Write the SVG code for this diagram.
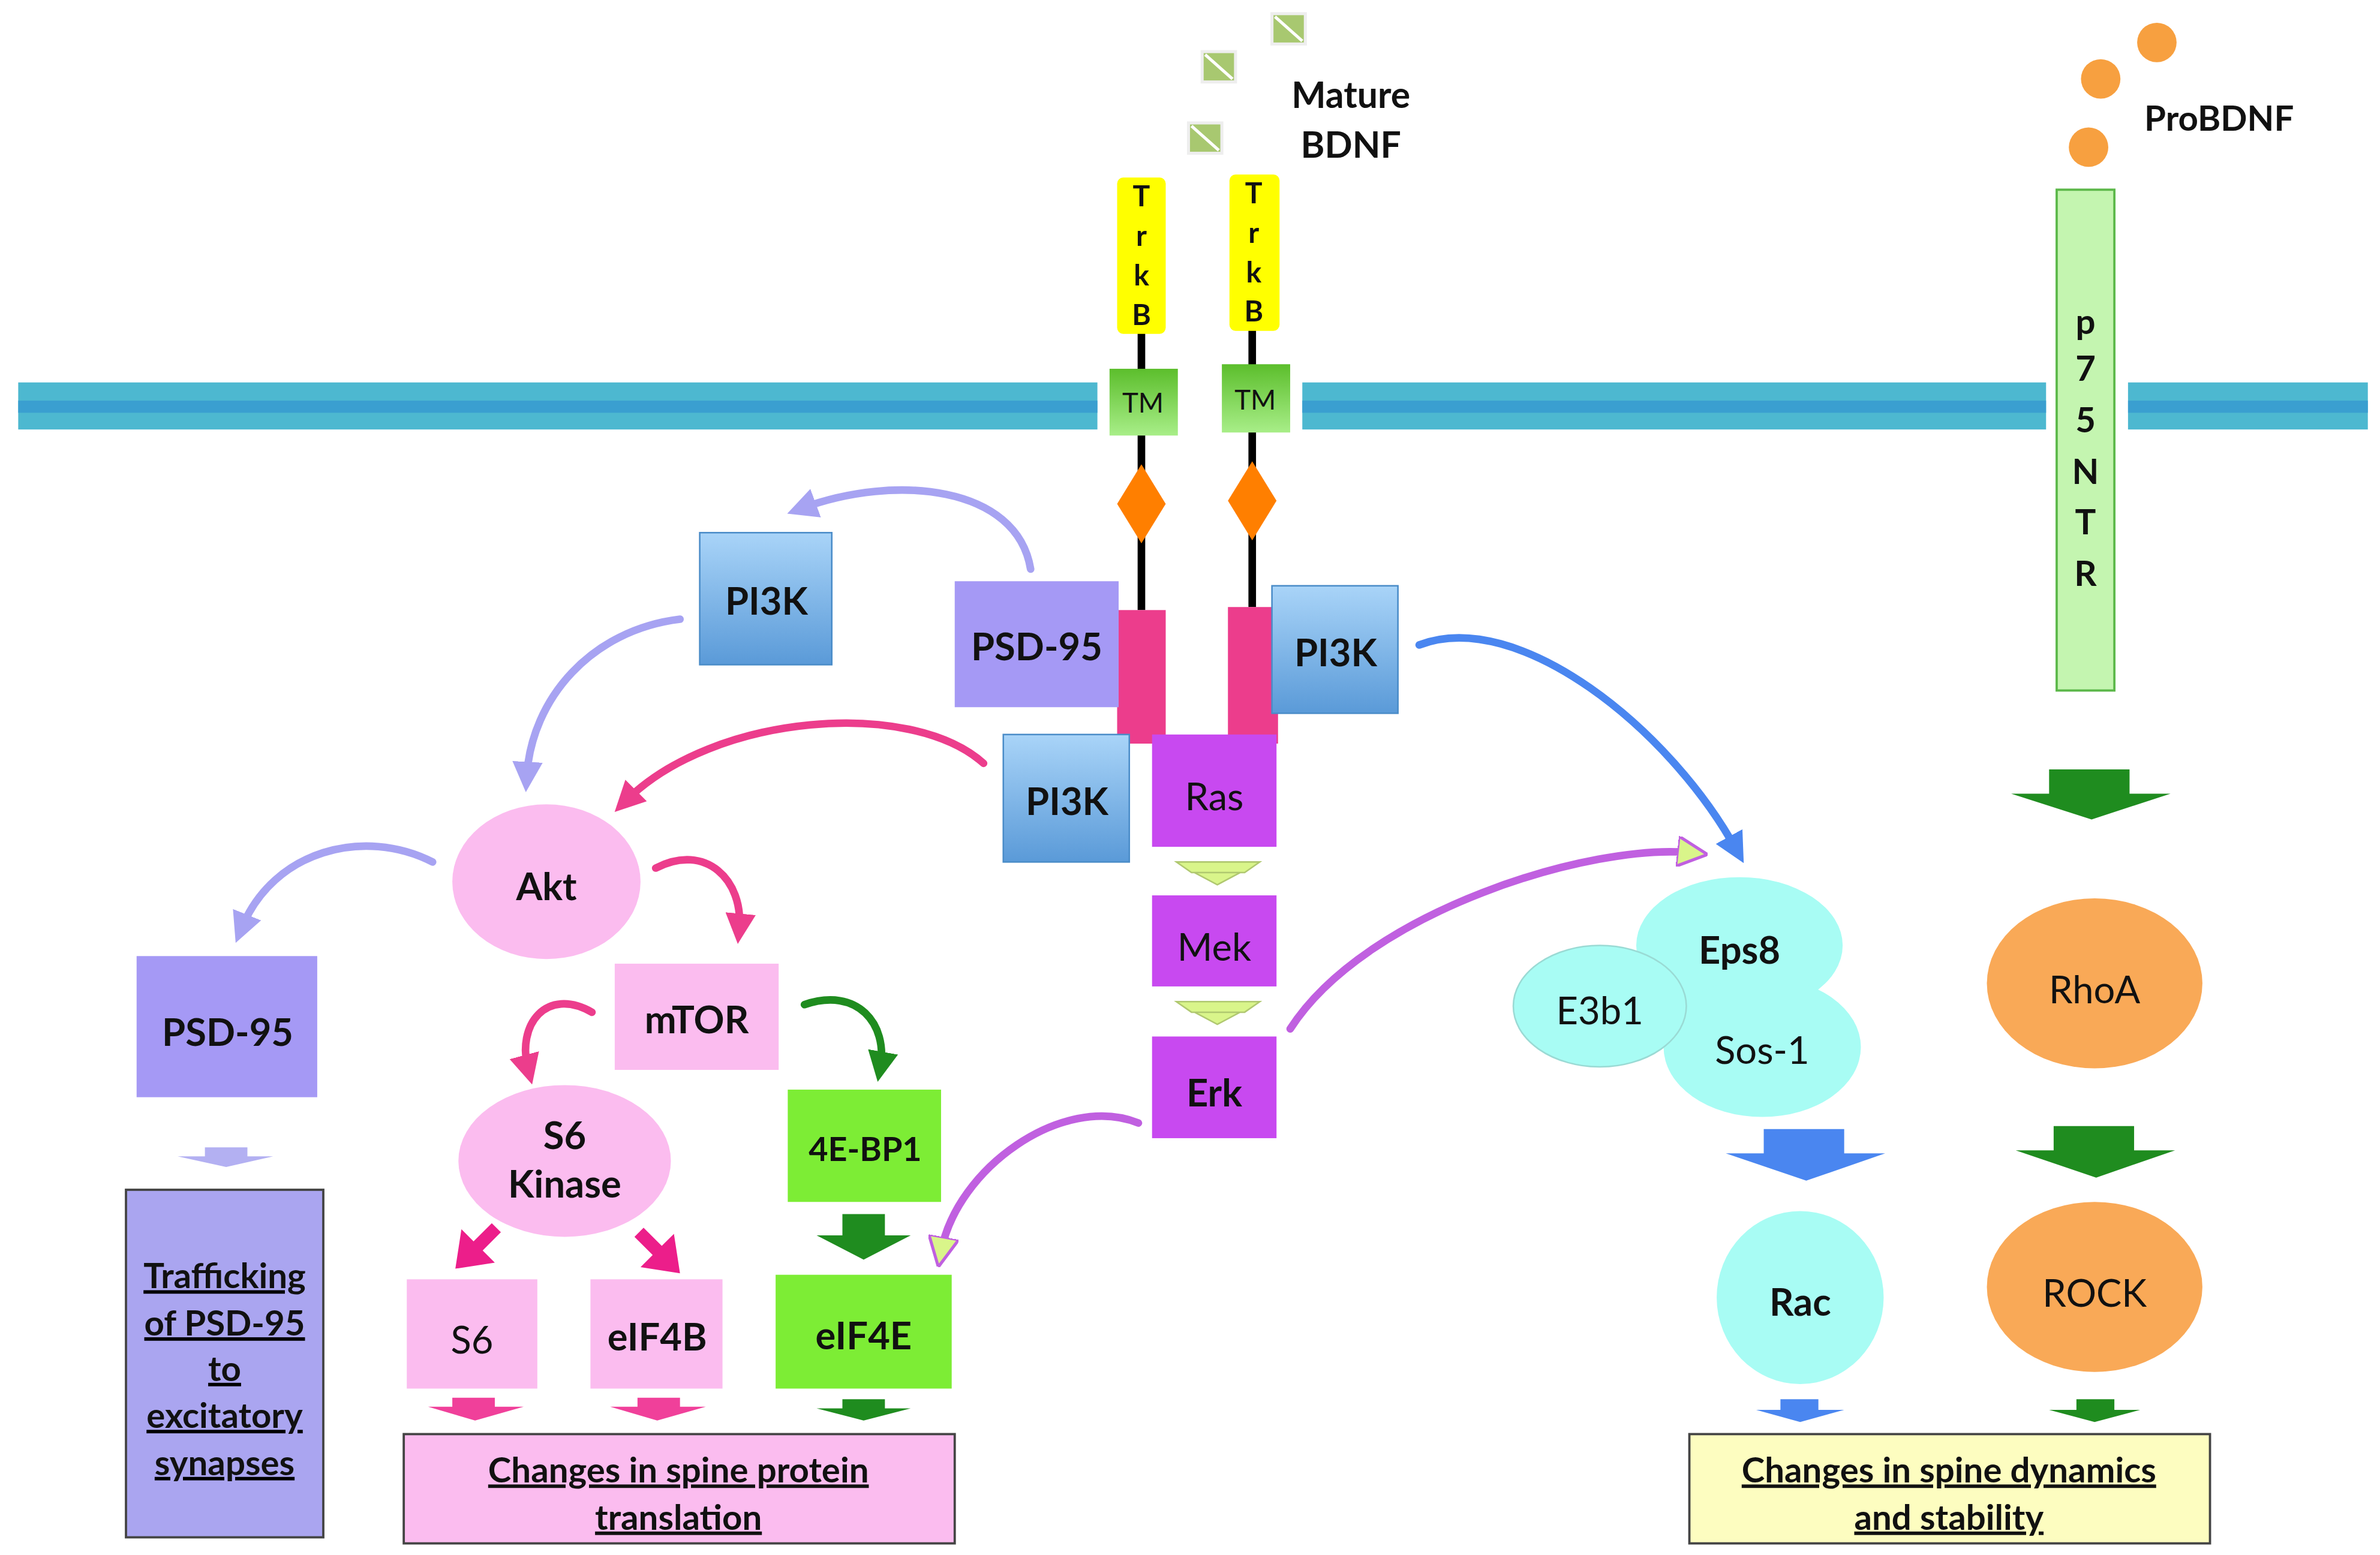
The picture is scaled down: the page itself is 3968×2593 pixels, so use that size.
<svg xmlns="http://www.w3.org/2000/svg" width="3968" height="2593" viewBox="0 0 3968 2593">
<style>
text{font-family:"Lato","Liberation Sans",sans-serif;text-anchor:middle;fill:#111}
.b{font-weight:bold}
.t{font-size:25px}
.pi{fill:url(#gb);stroke:#4a8cc8;stroke-width:1}
.pk{fill:#fbbcef}
.gr{fill:#7ded35}
.cy{fill:#a8fcf4}
.or{fill:#f9a957}
.mg{fill:#c849f0}
.u{text-decoration:underline}
.c{fill:none;stroke-width:5;stroke-linecap:round}
</style>
<defs>
<linearGradient id="gb" x1="0" y1="0" x2="0" y2="1"><stop offset="0" stop-color="#a9d4f8"/><stop offset="1" stop-color="#5a9ad8"/></linearGradient>
<linearGradient id="gt" x1="0" y1="0" x2="0" y2="1"><stop offset="0" stop-color="#5cbe2c"/><stop offset="1" stop-color="#a8ee88"/></linearGradient>
<marker id="mLav" viewBox="0 0 10 10" refX="5" refY="5" markerWidth="4" markerHeight="4" orient="auto"><path d="M0,0L10,5L0,10z" fill="#a7a3f2"/></marker>
<marker id="mPk" viewBox="0 0 10 10" refX="5" refY="5" markerWidth="4" markerHeight="4" orient="auto"><path d="M0,0L10,5L0,10z" fill="#ec3d8c"/></marker>
<marker id="mGr" viewBox="0 0 10 10" refX="5" refY="5" markerWidth="4" markerHeight="4" orient="auto"><path d="M0,0L10,5L0,10z" fill="#1f8c1f"/></marker>
<marker id="mBl" viewBox="0 0 10 10" refX="5" refY="5" markerWidth="4" markerHeight="4" orient="auto"><path d="M0,0L10,5L0,10z" fill="#4a86f0"/></marker>
<marker id="mYl" viewBox="0 0 10 10" refX="5" refY="5" markerWidth="4" markerHeight="4" orient="auto"><path d="M0,0L10,5L0,10z" fill="#d9f58a" stroke="#c060e0" stroke-width="1"/></marker>
</defs>
<rect width="3968" height="2593" fill="#fff"/>
<g transform="scale(2.5306)">
<g id="membrane">
<rect x="12" y="252" width="711" height="31" fill="#4db8d0"/><rect x="12" y="264" width="711" height="8" fill="#3a9fd0"/>
<rect x="858" y="252" width="490" height="31" fill="#4db8d0"/><rect x="858" y="264" width="490" height="8" fill="#3a9fd0"/>
<rect x="1402" y="252" width="158" height="31" fill="#4db8d0"/><rect x="1402" y="264" width="158" height="8" fill="#3a9fd0"/>
</g>
<g id="bdnf">
<g fill="#a8c870" stroke="#eee" stroke-width="2"><rect x="838" y="9" width="22" height="20"/><rect x="792" y="34" width="22" height="20"/><rect x="783" y="81" width="22" height="20"/></g>
<g stroke="#fff" stroke-width="2"><path d="M840,11L858,27M794,36L812,52M785,83L803,99"/></g>
<text x="890" y="71" class="b" font-size="24">Mature</text><text x="890" y="104" class="b" font-size="24">BDNF</text>
</g>
<g id="trkb-left">
<line x1="752" y1="218" x2="752" y2="402" stroke="#000" stroke-width="5"/>
<rect x="736" y="117" width="32" height="103" rx="4" fill="#ffff00"/>
<text x="752" y="136" class="b" font-size="19">T</text><text x="752" y="162" class="b" font-size="19">r</text><text x="752" y="188" class="b" font-size="19">k</text><text x="752" y="214" class="b" font-size="19">B</text>
<rect x="731" y="243" width="45" height="44" fill="url(#gt)"/><text x="753" y="272" font-size="18">TM</text>
<path d="M752,306L768,332L752,358L736,332z" fill="#ff7f00"/>
<rect x="736" y="402" width="32" height="88" fill="#ec3d8c"/>
</g>
<g id="trkb-right">
<line x1="825" y1="216" x2="825" y2="400" stroke="#000" stroke-width="5"/>
<rect x="810" y="115" width="33" height="103" rx="4" fill="#ffff00"/>
<text x="826" y="134" class="b" font-size="19">T</text><text x="826" y="160" class="b" font-size="19">r</text><text x="826" y="186" class="b" font-size="19">k</text><text x="826" y="212" class="b" font-size="19">B</text>
<rect x="805" y="240" width="45" height="45" fill="url(#gt)"/><text x="827" y="270" font-size="18">TM</text>
<path d="M825,304L841,330L825,356L809,330z" fill="#ff7f00"/>
<rect x="809" y="400" width="33" height="90" fill="#ec3d8c"/>
</g>
<g id="psd95-top"><rect x="629" y="383" width="108" height="83" fill="#a599f5"/><text x="683" y="435" class="b t">PSD-95</text></g>
<g id="pi3k-top"><rect x="461" y="351" width="87" height="87" class="pi"/><text x="505" y="405" class="b t">PI3K</text></g>
<g id="pi3k-right"><rect x="838" y="386" width="83" height="84" class="pi"/><text x="880" y="439" class="b t">PI3K</text></g>
<g id="pi3k-low"><rect x="661" y="484" width="83" height="84" class="pi"/><text x="703" y="537" class="b t">PI3K</text></g>
<g id="ras"><rect x="759" y="484" width="82" height="74" class="mg"/><text x="800" y="534" class="t">Ras</text></g>
<g id="mek"><rect x="759" y="590" width="82" height="60" class="mg"/><text x="800" y="633" class="t">Mek</text></g>
<g id="erk"><rect x="759" y="683" width="82" height="67" class="mg"/><text x="800" y="729" class="b t">Erk</text></g>
<g id="akt"><ellipse cx="360" cy="581" rx="62" ry="51" class="pk"/><text x="360" y="593" class="b t">Akt</text></g>
<g id="mtor"><rect x="405" y="635" width="108" height="70" class="pk"/><text x="459" y="681" class="b t">mTOR</text></g>
<g id="s6k"><ellipse cx="372" cy="765" rx="70" ry="50" class="pk"/><text x="372" y="757" class="b t">S6</text><text x="372" y="789" class="b t">Kinase</text></g>
<g id="4ebp1"><rect x="519" y="718" width="101" height="74" class="gr"/><text x="570" y="765" class="b" font-size="22">4E-BP1</text></g>
<g id="s6"><rect x="268" y="843" width="86" height="72" class="pk"/><text x="311" y="892" class="t">S6</text></g>
<g id="eif4b"><rect x="389" y="843" width="87" height="72" class="pk"/><text x="433" y="890" class="b t">eIF4B</text></g>
<g id="eif4e"><rect x="511" y="840" width="116" height="75" class="gr"/><text x="569" y="889" class="b t">eIF4E</text></g>
<g id="psd95-left"><rect x="90" y="630" width="119" height="93" fill="#a599f5"/><text x="150" y="689" class="b t">PSD-95</text></g>
<g id="trafficking"><rect x="83" y="784" width="130" height="229" fill="#aaa5f0" stroke="#444" stroke-width="1.5"/>
<g class="b u" font-size="23"><text x="148" y="849">Trafficking</text><text x="148" y="880">of PSD-95</text><text x="148" y="910">to</text><text x="148" y="941">excitatory</text><text x="148" y="972">synapses</text></g></g>
<g id="translation"><rect x="266" y="945" width="363" height="72" class="pk" stroke="#444" stroke-width="1.5"/>
<text x="447" y="977" class="b u" font-size="23">Changes in spine protein</text><text x="447" y="1008" class="b u" font-size="23">translation</text></g>
<g id="dynamics"><rect x="1113" y="945" width="343" height="72" fill="#fdfdc0" stroke="#444" stroke-width="1.5"/>
<text x="1284" y="977" class="b u" font-size="23">Changes in spine dynamics</text><text x="1284" y="1008" class="b u" font-size="23">and stability</text></g>
<g id="eps8-complex">
<ellipse cx="1146" cy="623" rx="68" ry="45" class="cy"/>
<ellipse cx="1161" cy="690" rx="65" ry="46" class="cy"/>
<ellipse cx="1054" cy="663" rx="57" ry="40" class="cy" stroke="#9adad4" stroke-width="1"/>
<text x="1146" y="635" class="b t">Eps8</text><text x="1161" y="701" class="t">Sos-1</text><text x="1054" y="675" class="t">E3b1</text>
</g>
<g id="rac"><ellipse cx="1186" cy="855" rx="55" ry="57" class="cy"/><text x="1186" y="867" class="b t">Rac</text></g>
<g id="rhoa"><ellipse cx="1380" cy="648" rx="71" ry="56" class="or"/><text x="1380" y="661" class="t">RhoA</text></g>
<g id="rock"><ellipse cx="1380" cy="848" rx="71" ry="56" class="or"/><text x="1380" y="861" class="t">ROCK</text></g>
<g id="p75ntr"><rect x="1355" y="125" width="38" height="330" fill="#c4f5b0" stroke="#5cb84a" stroke-width="1.5"/>
<g class="b" font-size="23"><text x="1374" y="220">p</text><text x="1374" y="251">7</text><text x="1374" y="285">5</text><text x="1374" y="319">N</text><text x="1374" y="352">T</text><text x="1374" y="386">R</text></g></g>
<g id="probdnf"><g fill="#f7a040"><circle cx="1384" cy="52" r="13"/><circle cx="1421" cy="28" r="13"/><circle cx="1376" cy="97" r="13"/></g>
<text x="1462" y="86" class="b" font-size="23">ProBDNF</text></g>
<g id="connectors">
<g fill="#d9f58a" stroke="#b0c870" stroke-width="1"><path d="M775,568h55l-10,7h-35z M787,575h30l-15,8z"/><path d="M775,660h55l-10,7h-35z M787,667h30l-15,8z"/></g>
<path fill="#1f8c1f" d="M1350,507h53v16h27l-52,17l-53,-17h25z M1353,742h53v16h27l-52,18l-53,-18h25z M1368,922h25v7h17l-30,8l-30,-8h18z M555,800h28v14h17l-31,16l-31,-16h17z M555,922h28v6h17l-31,8l-31,-8h17z"/>
<path fill="#4a86f0" d="M1162,744h53v16h27l-52,18l-53,-18h25z M1173,922h25v7h17l-29,8l-29,-8h16z"/>
<path fill="#b3b0f2" d="M135,756h28v6h17l-31,7l-32,-7h18z"/>
<path fill="#f0409a" d="M298,921h28v6h19l-32,9l-31,-9h16z M420,921h28v6h17l-32,9l-31,-9h18z"/>
<path fill="#ec1e8a" d="M330,812l-12,12l8,8l-26,4l4,-26l8,8l12,-12z M418,815l12,12l-8,8l26,4l-4,-26l-8,8l-12,-12z"/>
<path class="c" stroke="#a7a3f2" marker-end="url(#mLav)" d="M679,375C670,320 590,312 528,335"/>
<path class="c" stroke="#a7a3f2" marker-end="url(#mLav)" d="M448,408C390,415 350,460 347,512"/>
<path class="c" stroke="#ec3d8c" marker-end="url(#mPk)" d="M648,503C600,460 470,470 412,528"/>
<path class="c" stroke="#a7a3f2" marker-end="url(#mLav)" d="M285,568C240,545 180,560 159,612"/>
<path class="c" stroke="#ec3d8c" marker-end="url(#mPk)" d="M432,572C465,555 490,580 487,612"/>
<path class="c" stroke="#ec3d8c" marker-end="url(#mPk)" d="M390,667C360,650 340,675 348,705"/>
<path class="c" stroke="#1f8c1f" marker-end="url(#mGr)" d="M530,662C565,650 585,675 580,703"/>
<path class="c" stroke="#4a86f0" marker-end="url(#mBl)" d="M935,425C1000,400 1100,480 1144,560"/>
<path class="c" stroke="#c060e0" stroke-width="3" marker-end="url(#mYl)" d="M850,678C900,600 1050,555 1115,562"/>
<path class="c" stroke="#c060e0" stroke-width="3" marker-end="url(#mYl)" d="M750,740C700,720 630,770 620,825"/>
</g>
</g>
</svg>
